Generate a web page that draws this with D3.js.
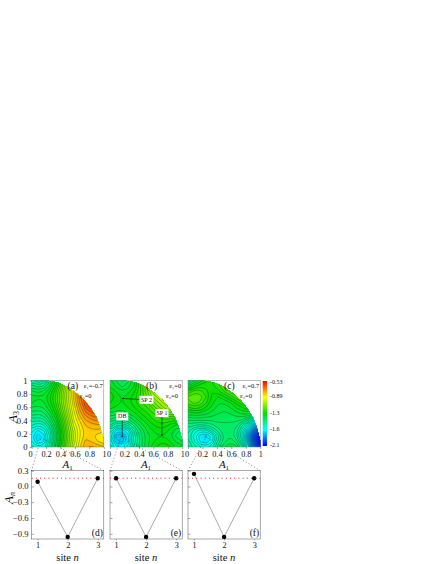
<!DOCTYPE html>
<html><head><meta charset="utf-8">
<script src="https://cdn.jsdelivr.net/npm/d3@7"></script>
<style>html,body{margin:0;padding:0;background:#fff}svg{display:block}text{font-family:"Liberation Serif",serif;fill:#111}</style>
</head><body><svg id="c" width="436" height="564"></svg>
<script>
// Field values: rows run from A3=1 (top) to A3=0, columns from A1=0 to A1=1
const gridA = [
[-1.5,-1.55,-1.52,-1.42,-1.3,-1.15,-1.0,-.85,-.75,-.65,-.6,-.55,-.55],
[-1.42,-1.46,-1.44,-1.36,-1.25,-1.12,-.98,-.84,-.72,-.62,-.55,-.5,-.5],
[-1.36,-1.38,-1.36,-1.3,-1.2,-1.08,-.95,-.82,-.7,-.6,-.52,-.48,-.48],
[-1.31,-1.33,-1.32,-1.27,-1.18,-1.07,-.95,-.82,-.7,-.6,-.52,-.48,-.48],
[-1.33,-1.35,-1.34,-1.28,-1.19,-1.08,-.96,-.84,-.72,-.62,-.55,-.5,-.5],
[-1.37,-1.39,-1.37,-1.31,-1.22,-1.1,-.98,-.86,-.75,-.65,-.6,-.55,-.55],
[-1.42,-1.44,-1.42,-1.36,-1.26,-1.13,-1.0,-.88,-.78,-.7,-.66,-.64,-.64],
[-1.48,-1.5,-1.48,-1.4,-1.3,-1.17,-1.03,-.9,-.82,-.75,-.72,-.7,-.7],
[-1.54,-1.58,-1.55,-1.46,-1.34,-1.2,-1.05,-.93,-.85,-.79,-.77,-.76,-.76],
[-1.6,-1.66,-1.62,-1.52,-1.38,-1.22,-1.07,-.96,-.87,-.81,-.8,-.8,-.82],
[-1.64,-1.72,-1.68,-1.55,-1.4,-1.24,-1.09,-.97,-.87,-.81,-.82,-.85,-.87],
[-1.62,-1.7,-1.66,-1.54,-1.39,-1.23,-1.08,-.96,-.86,-.78,-.8,-.83,-.85],
[-1.56,-1.62,-1.59,-1.49,-1.35,-1.2,-1.05,-.93,-.83,-.76,-.75,-.77,-.79]];
const gridB = [
[-1.32,-1.37,-1.41,-1.38,-1.3,-1.2,-1.1,-1,-.9,-.9,-.9,-.9,-.9],
[-1.3,-1.34,-1.38,-1.35,-1.3,-1.2,-1.1,-1,-.9,-.9,-.9,-.9,-.9],
[-1.26,-1.3,-1.33,-1.31,-1.27,-1.2,-1.1,-1,-.95,-.9,-.9,-.9,-.9],
[-1.23,-1.27,-1.3,-1.28,-1.24,-1.19,-1.13,-1.05,-1,-.95,-.9,-.9,-.9],
[-1.26,-1.28,-1.3,-1.28,-1.24,-1.2,-1.17,-1.1,-1.05,-1,-.95,-.9,-.9],
[-1.29,-1.31,-1.32,-1.3,-1.27,-1.23,-1.2,-1.16,-1.1,-1.05,-1,-1,-1],
[-1.34,-1.36,-1.36,-1.34,-1.31,-1.27,-1.24,-1.2,-1.17,-1.13,-1.1,-1.1,-1.1],
[-1.4,-1.44,-1.43,-1.41,-1.36,-1.31,-1.27,-1.23,-1.2,-1.19,-1.2,-1.2,-1.2],
[-1.47,-1.54,-1.54,-1.5,-1.43,-1.36,-1.31,-1.27,-1.24,-1.24,-1.27,-1.3,-1.3],
[-1.55,-1.66,-1.68,-1.62,-1.5,-1.41,-1.34,-1.3,-1.28,-1.28,-1.31,-1.35,-1.38],
[-1.6,-1.74,-1.78,-1.68,-1.54,-1.43,-1.36,-1.32,-1.3,-1.3,-1.33,-1.38,-1.41],
[-1.6,-1.72,-1.74,-1.66,-1.54,-1.44,-1.36,-1.31,-1.28,-1.27,-1.3,-1.34,-1.37],
[-1.55,-1.64,-1.66,-1.6,-1.5,-1.42,-1.35,-1.29,-1.25,-1.23,-1.26,-1.3,-1.32]];
const gridC = [
[-1.42,-1.38,-1.32,-1.27,-1.22,-1.18,-1.15,-1.12,-1.1,-1.1,-1.1,-1.1,-1.1],
[-1.33,-1.28,-1.24,-1.24,-1.24,-1.2,-1.16,-1.12,-1.1,-1.1,-1.1,-1.1,-1.1],
[-1.22,-1.17,-1.17,-1.21,-1.26,-1.24,-1.19,-1.14,-1.1,-1.1,-1.1,-1.1,-1.1],
[-1.15,-1.12,-1.13,-1.19,-1.27,-1.3,-1.27,-1.22,-1.17,-1.12,-1.1,-1.1,-1.1],
[-1.17,-1.14,-1.16,-1.22,-1.29,-1.33,-1.33,-1.3,-1.25,-1.2,-1.16,-1.14,-1.14],
[-1.24,-1.22,-1.23,-1.27,-1.31,-1.35,-1.36,-1.34,-1.3,-1.27,-1.24,-1.23,-1.24],
[-1.32,-1.31,-1.31,-1.33,-1.35,-1.37,-1.38,-1.37,-1.35,-1.33,-1.33,-1.36,-1.4],
[-1.39,-1.39,-1.39,-1.39,-1.39,-1.39,-1.4,-1.4,-1.39,-1.4,-1.46,-1.54,-1.6],
[-1.45,-1.47,-1.48,-1.47,-1.45,-1.42,-1.41,-1.41,-1.43,-1.5,-1.6,-1.72,-1.8],
[-1.5,-1.56,-1.6,-1.59,-1.53,-1.46,-1.42,-1.41,-1.46,-1.57,-1.72,-1.88,-1.98],
[-1.52,-1.6,-1.68,-1.7,-1.65,-1.53,-1.44,-1.41,-1.47,-1.6,-1.8,-1.98,-2.08],
[-1.5,-1.58,-1.66,-1.69,-1.63,-1.51,-1.42,-1.38,-1.42,-1.55,-1.76,-1.98,-2.1],
[-1.46,-1.52,-1.58,-1.6,-1.55,-1.45,-1.37,-1.33,-1.35,-1.47,-1.66,-1.9,-2.05]];
// Edge of the allowed region (A1, A3)
const boundary = [[0,1],[.2,1],[.36,.97],[.5,.9],[.63,.8],[.73,.7],[.82,.58],[.9,.44],[.95,.3],[.98,.18],[1,.1],[1,0],[0,0]];
const minima = [[.13,.14],[.15,.15],[.25,.15]];
const colorStops = [-2.1,-1.65,-1.27,-.89,-.53];
const colorNames = ["#0000ff","#00ffff","#00e000","#ffff00","#ff0000"];
const cbarLabels = ["-0.53","-0.89","-1.3","-1.6","-2.1"];
const cbarValues = [-0.55,-0.89,-1.3,-1.6,-2.1];
const fracTicks = [0,.2,.4,.6,.8,1];
const sites = [1,2,3];
const ampD = [.09,-.96,.157];
const ampE = [.157,-.96,.157];
const ampF = [.24,-.96,.157];
const ampRef = .157;
const ampTicks = [.3,0,-.3,-.6,-.9];
const panelNames = ["(a)","(b)","(c)"];
const lowerNames = ["(d)","(e)","(f)"];
const eps1 = ["ε₁=-0.7","ε₁=0","ε₁=0.7"];
const eps3Right = [60,68,64];

const svg = d3.select("#c");
const color = d3.scaleLinear().domain(colorStops).range(colorNames).clamp(true);
const lefts = [31.6,110,188], W = 72.2, topY = 380.5, bot = 447;
const lTop = 470.7, lBot = 539;
const yA = d3.scaleLinear().domain([0,1]).range([bot,topY]);
const fillT = d3.range(-2.2,-.44,.015), lineT = d3.range(-2.09,-.5,.036);
const smooth = d3.line().curve(d3.curveBasisClosed);

function field(g,grid,xA){
  const vals = grid.flat(), n = 13;
  const cs = d3.contours().size([n,n]).smooth(true);
  const px = p=>[xA((p[0]-.5)/12), yA(1-(p[1]-.5)/12)];
  const pathOf = mp=>mp.coordinates.map(poly=>poly.map(r=>smooth(r.slice(0,-1).map(px))).join("")).join("");
  g.append("rect").attr("x",xA(0)).attr("y",topY).attr("width",W).attr("height",bot-topY).attr("fill",color(-2.2));
  cs.thresholds(fillT)(vals).forEach(m=>{
    if(m.coordinates.length) g.append("path").attr("d",pathOf(m)).attr("fill",color(m.value)).attr("stroke","none");
  });
  const low = d3.min(vals);
  cs.thresholds(lineT)(vals).forEach(m=>{
    if(m.coordinates.length) g.append("path").attr("d",pathOf(m)).attr("fill","none").attr("stroke","#042")
      .attr("stroke-width",.45).attr("stroke-opacity",.85).attr("stroke-dasharray",m.value<low+.05?"1 1":null);
  });
}

function fmt(v){return v===0?"0":v===1?"1":d3.format(".1f")(v);}

[gridA,gridB,gridC].forEach((grid,k)=>{
  const x0 = lefts[k];
  const xA = d3.scaleLinear().domain([0,1]).range([x0,x0+W]);
  const cid = "clip"+k;
  svg.append("clipPath").attr("id",cid).append("path")
    .attr("d",d3.line().x(d=>xA(d[0])).y(d=>yA(d[1]))(boundary)+"Z");
  field(svg.append("g").attr("clip-path",`url(#${cid})`),grid,xA);
  svg.append("rect").attr("x",x0).attr("y",topY).attr("width",W).attr("height",bot-topY)
    .attr("fill","none").attr("stroke","#777").attr("stroke-width",.5);
  // x axis
  const ax = svg.append("g").attr("transform",`translate(0,${bot})`)
    .call(d3.axisBottom(xA).tickValues(fracTicks).tickSize(2).tickPadding(2.5).tickFormat(fmt));
  ax.select(".domain").remove();
  ax.selectAll("line").attr("stroke","#555").attr("stroke-width",.5);
  ax.selectAll("text").attr("font-size",8.2).attr("fill","#111");
  ax.selectAll(".tick").filter(d=>d===0).select("text").attr("dx",-1.5);
  ax.selectAll(".tick").filter(d=>d===1).select("text").attr("dx",.2);
  if(k===0){
    const ay = svg.append("g").attr("transform",`translate(${x0},0)`)
      .call(d3.axisLeft(yA).tickValues(fracTicks).tickSize(2).tickPadding(2).tickFormat(fmt));
    ay.select(".domain").remove();
    ay.selectAll("line").attr("stroke","#555").attr("stroke-width",.5);
    ay.selectAll("text").attr("font-size",8.6).attr("fill","#111");
  }
  // labels
  svg.append("text").attr("x",x0+36).attr("y",468).attr("text-anchor","middle").attr("font-style","italic").attr("font-size",11)
    .text("A").append("tspan").attr("font-size",7).attr("dy",1.5).attr("font-style","normal").text("1");
  svg.append("text").attr("x",x0+36).attr("y",389).attr("font-size",9.5).text(panelNames[k]);
  svg.append("text").attr("x",x0+W-1).attr("y",388).attr("text-anchor","end").attr("font-size",6.5).text(eps1[k]);
  svg.append("text").attr("x",x0+eps3Right[k]).attr("y",397.5).attr("text-anchor","end").attr("font-size",6.5).text("ε₃=0");
});

svg.append("text").attr("transform","translate(17,417) rotate(-90)").attr("text-anchor","middle")
  .attr("font-style","italic").attr("font-size",13).text("A").append("tspan").attr("font-size",8).attr("dy",2).attr("font-style","normal").text("3");

// Colour bar
const cbX = 262.7, cbY = d3.scaleLinear().domain([-2.1,-1.6,-1.3,-.89,-.55]).range([445,429,413,396,382]);
const defs = svg.append("defs").append("linearGradient").attr("id","cb").attr("x1",0).attr("x2",0).attr("y1",1).attr("y2",0);
colorStops.forEach((v,i)=>defs.append("stop").attr("offset",(i/4)).attr("stop-color",colorNames[i]));
svg.append("rect").attr("x",cbX).attr("y",381).attr("width",4.3).attr("height",65).attr("fill","url(#cb)");
cbarValues.forEach((v,i)=>{
  svg.append("text").attr("x",270).attr("y",cbY(v)+2).attr("font-size",6).text(cbarLabels[i]);
});

// Annotated points in (b)
const xB = d3.scaleLinear().domain([0,1]).range([lefts[1],lefts[1]+W]);
svg.append("defs").append("marker").attr("id","ah").attr("viewBox","0 0 6 6").attr("refX",5).attr("refY",3)
  .attr("markerWidth",3).attr("markerHeight",3).attr("orient","auto").append("path").attr("d","M0 0L6 3L0 6Z").attr("fill","#000");
const notes = [["DB",.17,.46,.17,.15,12],["SP 2",.505,.71,.17,.73,14],["SP 1",.72,.51,.72,.17,13]];
notes.forEach(([t,tx,ty,ex,ey,w])=>{
  svg.append("line").attr("x1",xB(tx)).attr("y1",yA(ty)).attr("x2",xB(ex)).attr("y2",yA(ey))
    .attr("stroke","#000").attr("stroke-width",.55).attr("marker-end","url(#ah)");
  svg.append("rect").attr("x",xB(tx)-w/2).attr("y",yA(ty)-4).attr("width",w).attr("height",8).attr("fill","#fff");
  svg.append("text").attr("x",xB(tx)).attr("y",yA(ty)+2).attr("text-anchor","middle").attr("font-size",6).text(t);
});

// Lower panels
[ampD,ampE,ampF].forEach((amp,k)=>{
  const x0 = lefts[k];
  const x = d3.scaleLinear().domain([.8,3.2]).range([x0,x0+W]);
  const y = d3.scaleLinear().domain([-1,.3]).range([lBot,lTop]);
  svg.append("rect").attr("x",x0).attr("y",lTop).attr("width",W).attr("height",lBot-lTop)
    .attr("fill","#fff").attr("stroke","#555").attr("stroke-width",.5);
  const ax = svg.append("g").attr("transform",`translate(0,${lBot})`)
    .call(d3.axisBottom(x).tickValues(sites).tickSize(1.5).tickPadding(2).tickFormat(d3.format("d")));
  ax.select(".domain").remove();
  ax.selectAll("line").attr("stroke","#555").attr("stroke-width",.5);
  ax.selectAll("text").attr("font-size",8.2).attr("fill","#111");
  const ayg = svg.append("g").attr("transform",`translate(${x0},0)`)
    .call(d3.axisRight(y).tickValues(ampTicks).tickSize(2.5).tickFormat(()=>""));
  ayg.select(".domain").remove();
  ayg.selectAll("line").attr("stroke","#555").attr("stroke-width",.5);
  ayg.selectAll("text").remove();
  if(k===0){
    ampTicks.forEach(v=>svg.append("text").attr("x",x0-3).attr("y",y(v)+3).attr("text-anchor","end").attr("font-size",8.6).text(d3.format(".1f")(v)));
  }
  svg.append("path").attr("d",d3.line().x((d,i)=>x(sites[i])).y(d=>y(d))(amp)).attr("fill","none").attr("stroke","#888").attr("stroke-width",.7);
  amp.forEach((a,i)=>svg.append("circle").attr("cx",x(sites[i])).attr("cy",y(a)).attr("r",2.2).attr("fill","#000"));
  svg.append("line").attr("x1",x0).attr("x2",x0+W).attr("y1",y(ampRef)).attr("y2",y(ampRef))
    .attr("stroke","#e00").attr("stroke-width",.9).attr("stroke-dasharray","1 3.2");
  svg.append("text").attr("x",x0+W-1).attr("y",lBot-3).attr("text-anchor","end").attr("font-size",9.5).text(lowerNames[k]);
  svg.append("text").attr("x",x0+36).attr("y",560.5).attr("text-anchor","middle").attr("font-size",10.5)
    .text("site ").append("tspan").attr("font-style","italic").text("n");
  // Dotted guides from the lower panel corners up to the minimum
  const xA = d3.scaleLinear().domain([0,1]).range([x0,x0+W]);
  [[x0,lTop],[x0+W,lTop]].forEach(c=>{
    svg.append("line").attr("x1",c[0]).attr("y1",c[1]).attr("x2",xA(minima[k][0])).attr("y2",yA(minima[k][1]))
      .attr("stroke","#222").attr("stroke-width",.7).attr("stroke-dasharray",".8 2.4");
  });
});
svg.append("text").attr("transform","translate(13,498) rotate(-90)").attr("text-anchor","middle")
  .attr("font-style","italic").attr("font-size",13).text("A").append("tspan").attr("font-size",8).attr("dy",2).text("n");
</script></body></html>
